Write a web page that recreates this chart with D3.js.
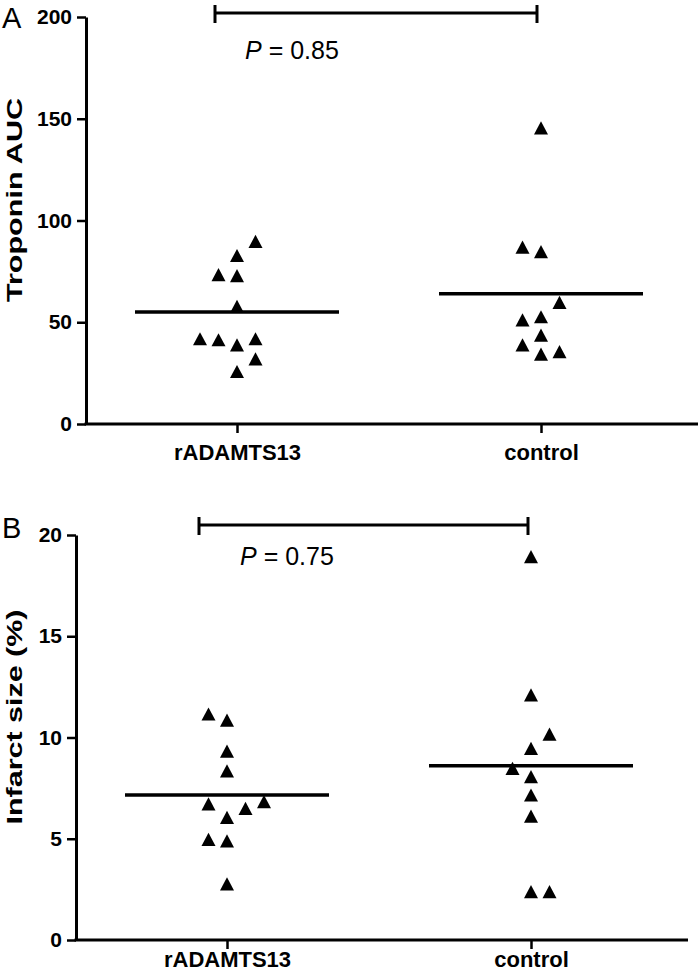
<!DOCTYPE html>
<html>
<head>
<meta charset="utf-8">
<script src="https://cdn.jsdelivr.net/npm/d3@7"></script>
<style>
  html, body { margin: 0; padding: 0; background: #fff; }
  svg { display: block; }
  text { font-family: "Liberation Sans", Arial, sans-serif; fill: #000; }
</style>
</head>
<body>
<svg id="chart" width="700" height="975"></svg>
<script>
// ---------- Data ----------
const categories = ["rADAMTS13", "control"];

// Panel A: Troponin AUC
const troponinRADAMTS13 = [89.7, 82.8, 73.4, 72.9, 57.8, 41.9, 41.4, 38.9, 41.9, 32.0, 25.8];
const troponinRADAMTS13Slot = [1, 0, -1, 0, 0, -2, -1, 0, 1, 1, 0];
const troponinControl = [145.5, 86.9, 84.7, 59.8, 51.2, 52.7, 43.7, 38.9, 34.3, 35.6];
const troponinControlSlot = [0, -1, 0, 1, -1, 0, 0, -1, 0, 1];
const troponinMeans = [55, 64];
const troponinTicks = [0, 50, 100, 150, 200];

// Panel B: Infarct size (%)
const infarctRADAMTS13 = [11.16, 10.86, 9.33, 8.35, 6.72, 6.50, 6.83, 6.06, 4.97, 4.90, 2.77];
const infarctRADAMTS13Slot = [-1, 0, 0, 0, -1, 1, 2, 0, -1, 0, 0];
const infarctControl = [18.93, 12.1, 10.17, 9.46, 8.48, 8.07, 7.16, 6.12, 2.39, 2.39];
const infarctControlSlot = [0, 0, 1, 0, -1, 0, 0, 0, 0, 1];
const infarctMeans = [7.16, 8.61];
const infarctTicks = [0, 5, 10, 15, 20];

const pLabels = ["0.85", "0.75"];

// ---------- Drawing ----------
const svg = d3.select("#chart");

const triangle = {
  draw(ctx, size) {
    const w = 7, h = 6.6;
    ctx.moveTo(0, -h);
    ctx.lineTo(w, h);
    ctx.lineTo(-w, h);
    ctx.closePath();
  }
};
const sym = d3.symbol().type(triangle);

function panel(cfg) {
  const g = svg.append("g");
  const y = d3.scaleLinear().domain([0, cfg.ymax]).range([cfg.y0, cfg.y1]);
  const x = d3.scalePoint().domain(categories).range([cfg.x0 + 151, cfg.x0 + 455]);
  const slotW = 18.5;

  // y axis
  const ya = g.append("g")
    .attr("transform", `translate(${cfg.x0},0)`)
    .call(d3.axisLeft(y).tickValues(cfg.ticks).tickSize(9).tickSizeOuter(0).tickPadding(5));
  ya.select(".domain").attr("stroke-width", 3).attr("stroke", "#000");
  ya.selectAll(".tick line").attr("stroke-width", 2.5).attr("stroke", "#000");
  ya.selectAll(".tick text")
    .attr("font-size", 21).attr("font-weight", "bold")
    .attr("font-family", "Liberation Sans, Arial, sans-serif").attr("fill", "#000");

  // x axis
  g.append("line")
    .attr("x1", cfg.x0 - 1.5).attr("x2", cfg.xEnd)
    .attr("y1", cfg.y0).attr("y2", cfg.y0)
    .attr("stroke", "#000").attr("stroke-width", 3);
  const xa = g.append("g")
    .attr("transform", `translate(0,${cfg.y0})`)
    .call(d3.axisBottom(x).tickSize(9).tickSizeOuter(0).tickPadding(6));
  xa.select(".domain").remove();
  xa.selectAll(".tick line").attr("stroke-width", 2.5).attr("stroke", "#000");
  xa.selectAll(".tick text")
    .attr("font-size", 22).attr("font-weight", "bold")
    .attr("font-family", "Liberation Sans, Arial, sans-serif").attr("fill", "#000")
    .attr("y", 0)
    .attr("dy", cfg.labelOff);

  // y title
  g.append("text")
    .attr("transform", `translate(14,${cfg.titleY}) rotate(-90)`)
    .attr("text-anchor", "middle")
    .attr("dominant-baseline", "central")
    .attr("font-size", 22).attr("font-weight", "bold")
    .attr("textLength", cfg.titleLen).attr("lengthAdjust", "spacingAndGlyphs")
    .text(cfg.title);

  // panel letter
  g.append("text")
    .attr("x", 2).attr("y", cfg.letterY)
    .attr("font-size", 29)
    .text(cfg.letter);

  // points
  cfg.series.forEach((s, i) => {
    g.append("g").selectAll("path")
      .data(s.values)
      .join("path")
      .attr("d", sym)
      .attr("fill", "#000")
      .attr("transform", (d, j) => `translate(${x(categories[i]) + s.slots[j] * slotW},${y(d)})`);
  });

  // mean lines
  g.append("g").selectAll("line")
    .data(cfg.means)
    .join("line")
    .attr("x1", (d, i) => x(categories[i]) - 102)
    .attr("x2", (d, i) => x(categories[i]) + 102)
    .attr("y1", d => y(d)).attr("y2", d => y(d))
    .attr("stroke", "#000").attr("stroke-width", 3.5);

  // significance bracket
  const bx1 = x(categories[0]) + cfg.bOff[0];
  const bx2 = x(categories[1]) + cfg.bOff[1];
  const bk = g.append("g").attr("stroke", "#000").attr("stroke-width", 3);
  bk.append("line").attr("x1", bx1).attr("x2", bx2).attr("y1", cfg.bY).attr("y2", cfg.bY);
  bk.append("line").attr("x1", bx1).attr("x2", bx1).attr("y1", cfg.bY - 8).attr("y2", cfg.bY + 10);
  bk.append("line").attr("x1", bx2).attr("x2", bx2).attr("y1", cfg.bY - 8).attr("y2", cfg.bY + 10);

  const pt = g.append("text")
    .attr("x", cfg.pX).attr("y", cfg.pY)
    .attr("font-size", 25);
  pt.append("tspan").attr("font-style", "italic").text("P");
  pt.append("tspan").text(" = " + cfg.p);
}

panel({
  x0: 86, xEnd: 698, y0: 424, y1: 17, ymax: 200,
  ticks: troponinTicks, title: "Troponin AUC", titleY: 200, titleLen: 204,
  letter: "A", letterY: 28, labelOff: 36,
  series: [
    { values: troponinRADAMTS13, slots: troponinRADAMTS13Slot },
    { values: troponinControl, slots: troponinControlSlot }
  ],
  means: troponinMeans,
  bOff: [-22, -4], bY: 13, pX: 245, pY: 59, p: pLabels[0]
});

panel({
  x0: 76, xEnd: 688, y0: 940, y1: 535, ymax: 20,
  ticks: infarctTicks, title: "Infarct size (%)", titleY: 717, titleLen: 215,
  letter: "B", letterY: 538, labelOff: 27,
  series: [
    { values: infarctRADAMTS13, slots: infarctRADAMTS13Slot },
    { values: infarctControl, slots: infarctControlSlot }
  ],
  means: infarctMeans,
  bOff: [-28, -3], bY: 525, pX: 240, pY: 565, p: pLabels[1]
});
</script>
</body>
</html>
